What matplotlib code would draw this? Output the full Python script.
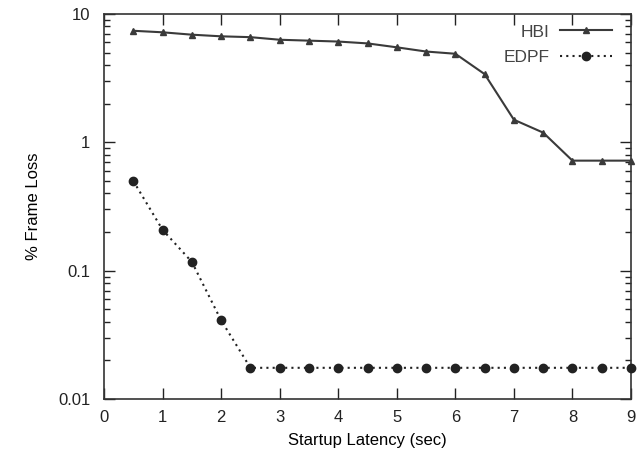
import matplotlib
matplotlib.use("Agg")
import matplotlib.pyplot as plt
from matplotlib.ticker import FixedLocator, FuncFormatter, LogLocator, NullFormatter

plt.rcParams['font.family'] = ['Liberation Sans', 'DejaVu Sans']

latency = [0.5, 1.0, 1.5, 2.0, 2.5, 3.0, 3.5, 4.0, 4.5, 5.0, 5.5, 6.0, 6.5, 7.0, 7.5, 8.0, 8.5, 9.0]
hbi = [7.4, 7.2, 6.9, 6.7, 6.6, 6.3, 6.2, 6.1, 5.9, 5.5, 5.1, 4.9, 3.4, 1.5, 1.19, 0.72, 0.72, 0.72]
edpf = [0.50, 0.208, 0.117, 0.041, 0.0175, 0.0175, 0.0175, 0.0175, 0.0175, 0.0175,
        0.0175, 0.0175, 0.0175, 0.0175, 0.0175, 0.0175, 0.0175, 0.0175]
x_ticks = [0, 1, 2, 3, 4, 5, 6, 7, 8, 9]
y_ticks = [0.01, 0.1, 1, 10]

col = '#3a3a3a'
fig = plt.figure(figsize=(6.39, 4.53), dpi=100)
ax = fig.add_axes([0.1628, 0.1192, 0.8247, 0.8499])

ax.plot(latency, hbi, color=col, lw=1.5, marker='^', ms=5, label='HBI', clip_on=False, zorder=3)
ax.plot(latency, edpf, color='#222222', lw=1.5, ls=(0, (1, 2)), marker='o', ms=6, label='EDPF',
        clip_on=False, zorder=3)

ax.set_yscale('log')
ax.set_xlim(0, 9)
ax.set_ylim(0.01, 10)
ax.xaxis.set_major_locator(FixedLocator(x_ticks))
ax.yaxis.set_major_locator(FixedLocator(y_ticks))
ax.yaxis.set_major_formatter(FuncFormatter(lambda v, p: '%g' % v))
ax.yaxis.set_minor_locator(LogLocator(base=10, subs=range(2, 10)))
ax.yaxis.set_minor_formatter(NullFormatter())

ax.tick_params(which='both', direction='in', top=True, right=True, labelsize=12, colors='#222222')
ax.tick_params(which='major', length=8, width=1)
ax.tick_params(which='minor', length=4, width=1)
ax.tick_params(axis='x', pad=8)
ax.tick_params(axis='y', pad=10)
for s in ax.spines.values():
    s.set_color('#333333')
    s.set_linewidth(1.2)

ax.set_xlabel('Startup Latency (sec)', fontsize=12, labelpad=6)
ax.set_ylabel('% Frame Loss', fontsize=12, labelpad=12)

leg = ax.legend(loc='upper right', bbox_to_anchor=(0.964, 0.973), borderaxespad=0, borderpad=0,
                frameon=False, markerfirst=False, fontsize=12.5, handlelength=3.0,
                handletextpad=0.6, labelspacing=0.6)
for t in leg.get_texts():
    t.set_ha('right')
    t.set_color('#444444')
leg.legend_handles[0].set_markersize(4)
leg.legend_handles[1].set_markersize(6)

fig.savefig('out.png', dpi=100)
